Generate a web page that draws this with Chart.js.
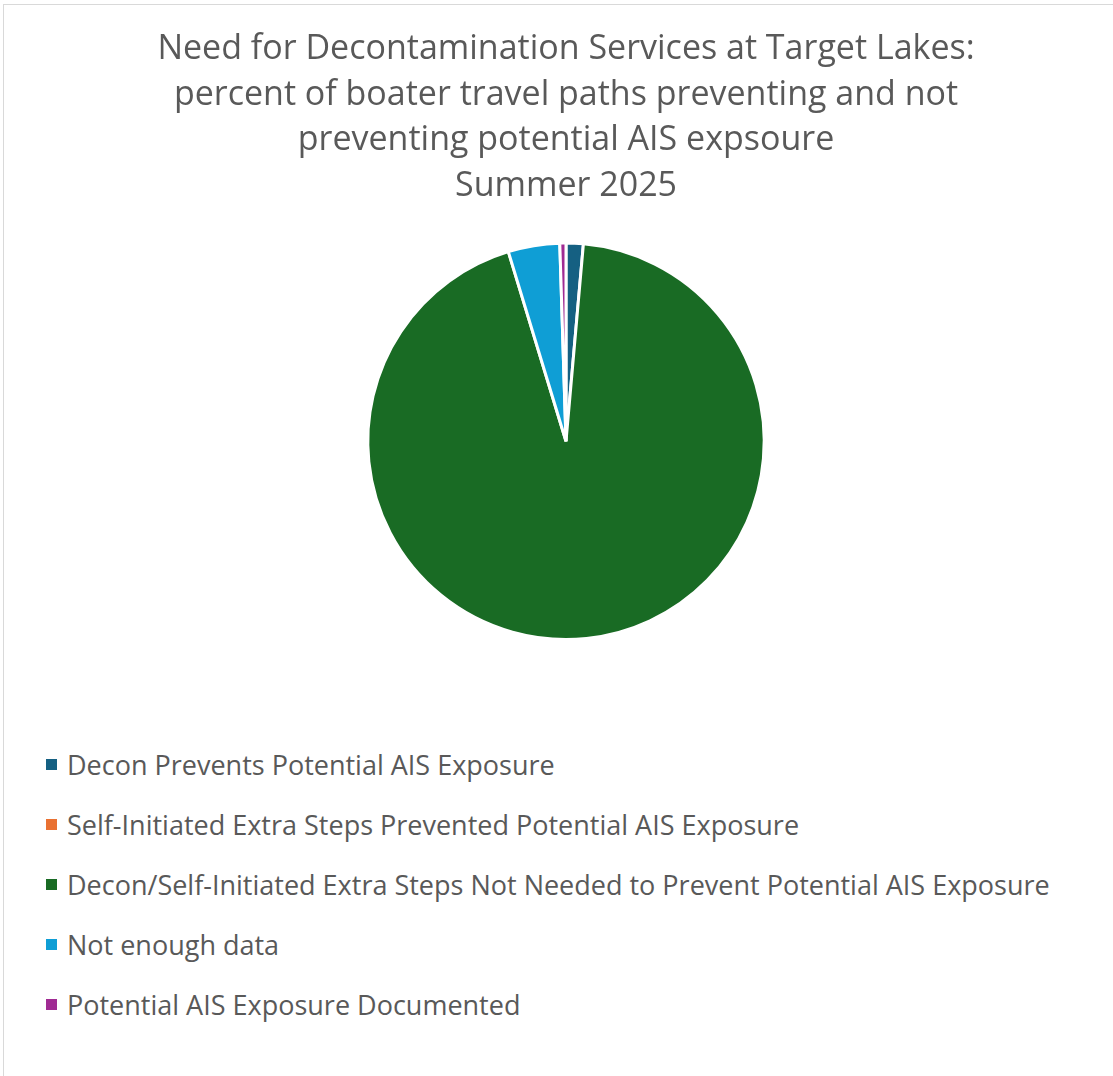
<!DOCTYPE html>
<html>
<head>
<meta charset="utf-8">
<script src="https://cdn.jsdelivr.net/npm/chart.js@4"></script>
<style>
  body { margin: 0; background: #fff; overflow: hidden; font-family: "Open Sans", sans-serif; }
  #frame { position: absolute; left: 3px; top: 4px; width: 1130px; height: 1100px; border: 1px solid #d9d9d9; }
  #wrap { position: absolute; left: 0; top: 0; width: 1124px; height: 700px; }
  #legend { position: absolute; left: 42px; top: 729px; margin: 0; padding: 0; list-style: none; }
  #legend li { height: 60px; display: flex; align-items: center; font-size: 27px; color: #595959; }
  #legend span { display: inline-block; width: 11px; height: 11px; margin-right: 10px; }
</style>
</head>
<body>
<div id="frame">
  <div id="wrap"><canvas id="pieChart"></canvas></div>
  <ul id="legend"></ul>
</div>
<script>
// categories and percentages
const categories = [
  "Decon Prevents Potential AIS Exposure",
  "Self-Initiated Extra Steps Prevented Potential AIS Exposure",
  "Decon/Self-Initiated Extra Steps Not Needed to Prevent Potential AIS Exposure",
  "Not enough data",
  "Potential AIS Exposure Documented"
];
const percents = [1.4, 0, 93.9, 4.2, 0.5];
const colors = ["#156082", "#E97132", "#196B24", "#0F9ED5", "#A02B93"];
const titleLines = [
  "Need for Decontamination Services at Target Lakes:",
  "percent of boater travel paths preventing and not",
  "preventing potential AIS expsoure",
  "Summer 2025"
];

const ctx = document.getElementById("pieChart");
new Chart(ctx, {
  type: "pie",
  data: {
    labels: categories,
    datasets: [{
      data: percents,
      backgroundColor: colors,
      borderColor: "#ffffff",
      borderWidth: 3
    }]
  },
  options: {
    responsive: true,
    maintainAspectRatio: false,
    animation: false,
    layout: { padding: { bottom: 64 } },
    plugins: {
      legend: { display: false },
      tooltip: { enabled: false },
      title: {
        display: true,
        text: titleLines,
        color: "#595959",
        font: { family: "Open Sans", size: 34, weight: "normal", lineHeight: 1.35 },
        padding: { top: 21, bottom: 32 }
      }
    }
  }
});

// legend list built from the same arrays
const legend = document.getElementById("legend");
categories.forEach((name, i) => {
  const li = document.createElement("li");
  const box = document.createElement("span");
  box.style.background = colors[i];
  li.appendChild(box);
  li.appendChild(document.createTextNode(name));
  legend.appendChild(li);
});
</script>
</body>
</html>
